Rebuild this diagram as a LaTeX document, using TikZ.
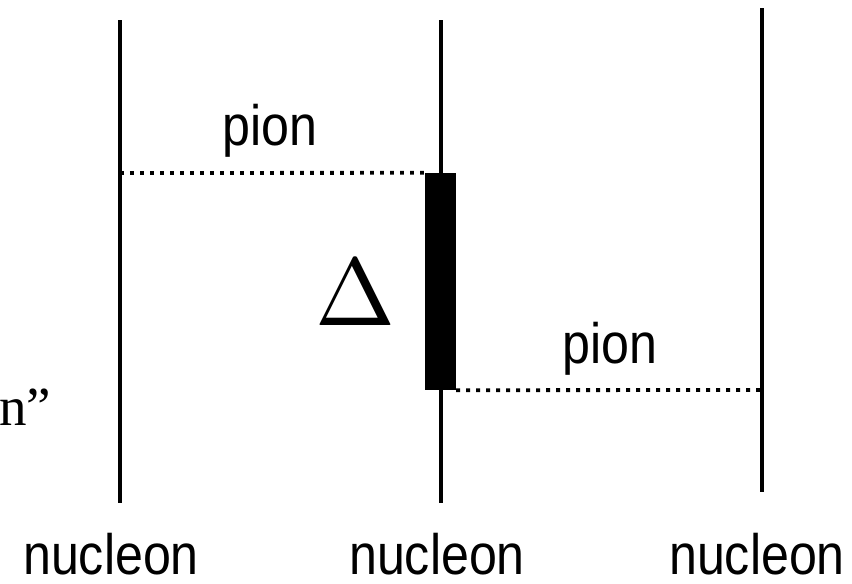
\documentclass[tikz,border=0pt]{standalone}
\usepackage{fontspec}
\setmainfont{Liberation Sans}
\newfontfamily\labelfont[FakeStretch=0.88]{Liberation Sans}
\newfontfamily\quotefont{Liberation Serif}
\usetikzlibrary{positioning}

\begin{document}
\begin{tikzpicture}[x=1pt,y=-1pt,
  nline/.style={line width=4.5pt},
  pionline/.style={line width=3.8pt,dash pattern=on 3.8pt off 6.2pt},
  lbl/.style={inner sep=0pt,anchor=base,font=\labelfont\fontsize{57}{59}\selectfont},
  bar/.style={fill=black,inner sep=0pt,minimum width=31pt,minimum height=217pt}
]
  \useasboundingbox (0,0) rectangle (852,584);
  % nucleon world lines
  \coordinate (a1) at (120,20);  \coordinate (a2) at (120,503);
  \coordinate (b1) at (441,20);  \coordinate (b2) at (441,503);
  \coordinate (c1) at (762,8);   \coordinate (c2) at (762,492);
  \draw[nline] (a1) -- (a2);
  \draw[nline] (b1) -- (b2);
  \draw[nline] (c1) -- (c2);
  % delta
  \node[bar] (delta) at (440.5,281.5) {};
  \node[inner sep=0pt,scale=9.6] (dlabel) at (355,293) {$\Delta$};
  % pions
  \coordinate (pa) at (120,173);
  \coordinate (pc) at (762,390);
  \draw[pionline] (pa) -- (delta.north west);
  \draw[pionline] (delta.south east) -- (pc);
  \node[lbl] (pion1) at (270,145) {pion};
  \node[lbl] (pion2) at (610,363) {pion};
  % labels
  \node[lbl] (nuc1) at (111,574) {nucleon};
  \node[lbl] (nuc2) at (437,574) {nucleon};
  \node[lbl] (nuc3) at (757,574) {nucleon};
  \node[inner sep=0pt,anchor=base west,font=\quotefont\fontsize{55}{57}\selectfont] (cut) at (-1,425) {n”};
\end{tikzpicture}
\end{document}
